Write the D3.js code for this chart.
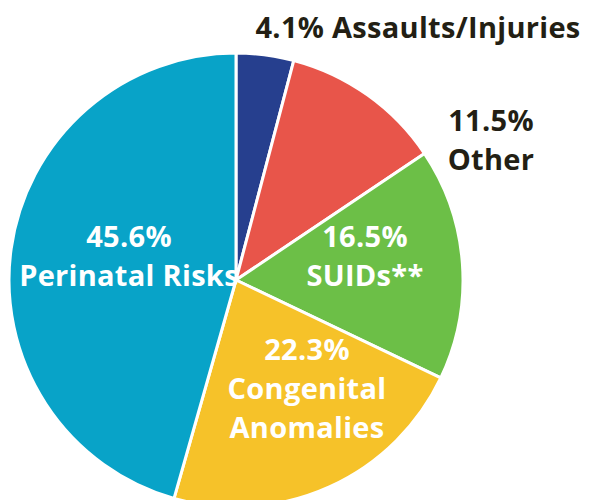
<!DOCTYPE html>
<html>
<head>
<meta charset="utf-8">
<script src="https://cdn.jsdelivr.net/npm/d3@7"></script>
<style>
  html, body { margin: 0; padding: 0; background: #fff; }
  svg { display: block; }
  text { font-family: "Open Sans", "Noto Sans", sans-serif; font-weight: 700; }
</style>
</head>
<body>
<script>
// slice data, clockwise from 12 o'clock
const categories = ['Assaults/Injuries', 'Other', 'SUIDs**', 'Congenital Anomalies', 'Perinatal Risks'];
const values = [4.1, 11.5, 16.5, 22.3, 45.6];
const colors = ['#263f8e', '#e8554a', '#6cbf47', '#f6c229', '#08a3c8'];

// label lines per slice (first line is the percent)
const labelLines = [
  ['4.1% Assaults/Injuries'],
  ['11.5%', 'Other'],
  ['16.5%', 'SUIDs**'],
  ['22.3%', 'Congenital', 'Anomalies'],
  ['45.6%', 'Perinatal Risks'],
];

const width = 589;
const height = 500;
const cx = 236;
const cy = 280;
const radius = 227;

// where each label block sits (first baseline), and its colour
const labelLayout = [
  { x: 418, y: 38, fill: '#231f14' },
  { x: 491, y: 131, fill: '#231f14' },
  { x: 365, y: 247, fill: '#ffffff' },
  { x: 307, y: 360, fill: '#ffffff' },
  { x: 129, y: 247, fill: '#ffffff' },
];

const svg = d3.select('body')
  .append('svg')
  .attr('width', width)
  .attr('height', height);

const pie = d3.pie().sort(null).value((d) => d.value);
const arc = d3.arc().innerRadius(0).outerRadius(radius);

const data = categories.map((c, i) => ({ name: c, value: values[i] }));

const g = svg.append('g').attr('transform', `translate(${cx},${cy})`);

g.selectAll('path')
  .data(pie(data))
  .enter()
  .append('path')
  .attr('d', arc)
  .attr('fill', (_, i) => colors[i])
  .attr('stroke', '#fff')
  .attr('stroke-width', 3)
  .attr('stroke-linejoin', 'round');

const labels = svg.selectAll('.label')
  .data(labelLines)
  .enter()
  .append('text')
  .attr('class', 'label')
  .attr('text-anchor', 'middle')
  .attr('font-size', 29)
  .attr('letter-spacing', 0.3)
  .attr('fill', (_, i) => labelLayout[i].fill);

labels.each(function (lines, i) {
  const pos = labelLayout[i];
  d3.select(this)
    .selectAll('tspan')
    .data(lines)
    .enter()
    .append('tspan')
    .attr('x', pos.x)
    .attr('y', (_, j) => pos.y + j * 39)
    .text((d) => d);
});
</script>
</body>
</html>
